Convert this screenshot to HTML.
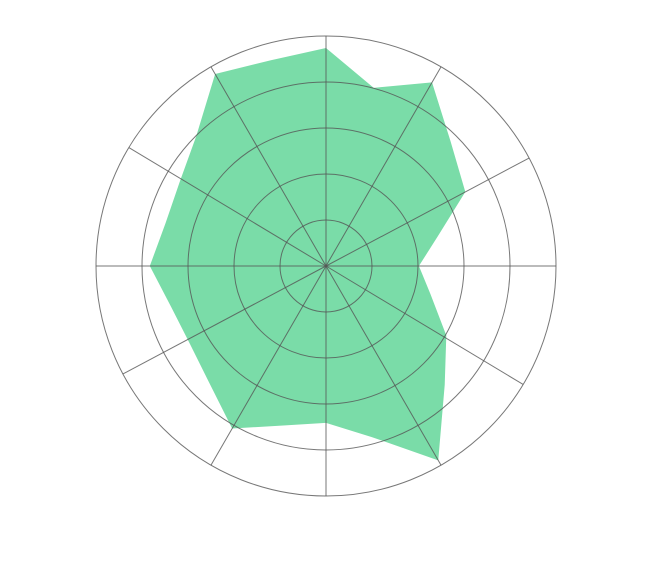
<!DOCTYPE html>
<html><head><meta charset="utf-8"><style>html,body{margin:0;padding:0;background:#fff;width:664px;height:564px;overflow:hidden}</style></head>
<body>
<svg id="chart" width="664" height="564" xmlns="http://www.w3.org/2000/svg"></svg>
<script>
const angles = [0,15,30,45,62,75,90,105,120,135,150,165,180,195,210,225,240,255,270,285,300,315,330,345];
const values = [4.74,4.01,4.61,3.83,3.43,2.52,2.02,2.35,3.02,3.65,4.88,3.85,3.41,3.59,4.08,3.59,3.41,3.48,3.83,3.61,3.67,3.99,4.82,4.63];
const ringTicks = [1,2,3,4,5];
const spokeAngles = [0,30,62,90,121,150,180,210,242,270,301,330];

const svg = document.getElementById('chart');
const NS = 'http://www.w3.org/2000/svg';
const cx = 326, cy = 266, maxR = 230, maxV = 5;
const rScale = v => v / maxV * maxR;
const pt = (a, r) => [cx + r * Math.sin(a * Math.PI / 180), cy - r * Math.cos(a * Math.PI / 180)];

const poly = document.createElementNS(NS, 'polygon');
poly.setAttribute('points', values.map((v, i) => pt(angles[i], rScale(v)).join(',')).join(' '));
poly.setAttribute('fill', '#7adca8');


svg.appendChild(poly);

ringTicks.forEach(t => {
  const c = document.createElementNS(NS, 'circle');
  c.setAttribute('cx', cx); c.setAttribute('cy', cy); c.setAttribute('r', rScale(t));
  c.setAttribute('fill', 'none'); c.setAttribute('stroke', '#555'); c.setAttribute('stroke-opacity', '0.8'); c.setAttribute('stroke-width', '1');
  
  
  svg.appendChild(c);
});
spokeAngles.forEach(a => {
  const [x, y] = pt(a, maxR);
  const l = document.createElementNS(NS, 'line');
  l.setAttribute('x1', cx); l.setAttribute('y1', cy); l.setAttribute('x2', x); l.setAttribute('y2', y);
  l.setAttribute('stroke', '#555'); l.setAttribute('stroke-opacity', '0.8'); l.setAttribute('stroke-width', '1');
  
  
  svg.appendChild(l);
});
</script>
</body></html>
